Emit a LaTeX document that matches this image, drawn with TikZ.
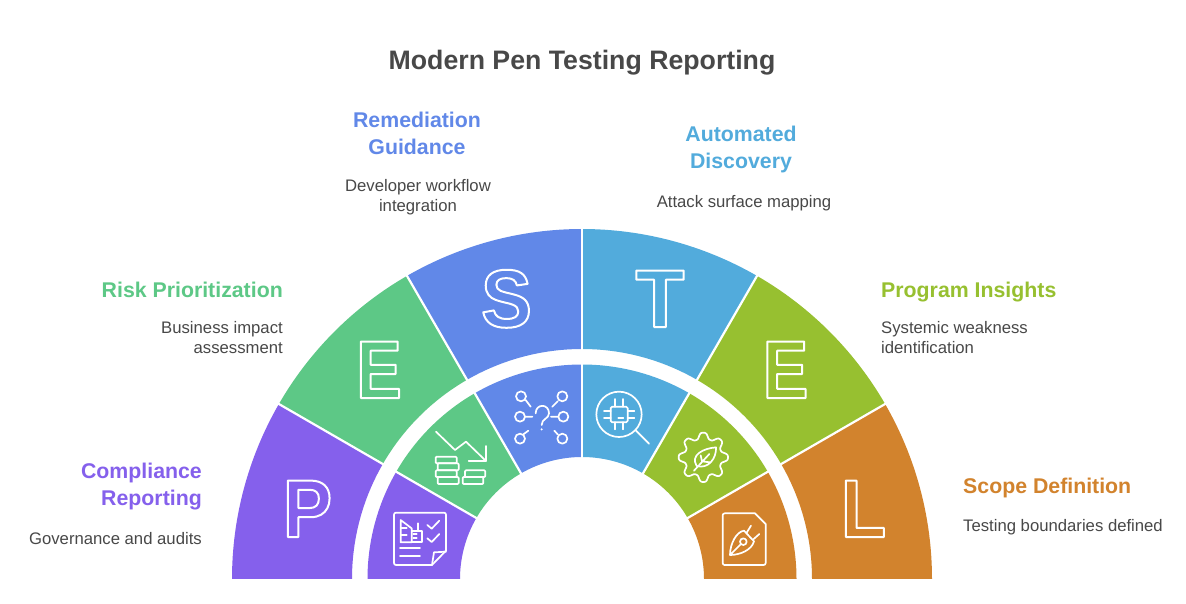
\documentclass[tikz,border=0pt]{standalone}
\usepackage{fontspec}
\setmainfont{Liberation Sans}
\newfontfamily\letE{Liberation Sans}[FakeStretch=0.83]
\newfontfamily\letP{Liberation Sans}[FakeStretch=0.90]
\newfontfamily\letS{Liberation Sans}[FakeStretch=0.93]
\newfontfamily\letT{Liberation Sans}[FakeStretch=0.98]
\definecolor{cpurple}{HTML}{8560EC}
\definecolor{cgreen}{HTML}{5DC886}
\definecolor{cblue}{HTML}{6188E8}
\definecolor{csky}{HTML}{52ABDC}
\definecolor{clime}{HTML}{97C030}
\definecolor{corange}{HTML}{D2832D}
\definecolor{cgrey}{HTML}{484848}
\newcommand{\ringseg}[3]{%
  \fill[#1] (#2:350) arc (#2:#3:350) -- (#3:230) arc (#3:#2:230) -- cycle;
  \fill[#1] (#2:214.5) arc (#2:#3:214.5) -- (#3:122) arc (#3:#2:122) -- cycle;}
\newcommand{\ringsep}[1]{%
  \draw[sepline] (#1:229) -- (#1:351);
  \draw[sepline] (#1:121) -- (#1:215.5);}
\newcommand{\outl}[1]{\special{pdf:code 1 Tr 2 w 1 j 1 1 1 RG}#1\special{pdf:code 0 Tr}}
\tikzset{
  x=1pt,y=1pt,
  sepline/.style={white,line width=2.2pt},
  icon/.style={white,line width=1.7pt,line cap=round,line join=round},
  titletext/.style={inner sep=0pt,text=cgrey,font=\fontsize{26.7}{32}\selectfont\bfseries,anchor=base},
  head/.style={inner sep=0pt,text depth=0pt,yshift=-0.7pt,font=\fontsize{21.3}{27}\selectfont\bfseries},
  desc/.style={inner sep=0pt,text depth=0pt,yshift=-0.7pt,text=cgrey,font=\fontsize{16.7}{20.5}\selectfont},
  letter/.style={inner sep=0pt,anchor=base,text=white,font=\fontsize{82}{82}\selectfont\bfseries},
}
\begin{document}
\begin{tikzpicture}[yscale=-1]
\useasboundingbox (0,0) rectangle (1186,603);
\fill[white] (0,0) rectangle (1186,603);
\begin{scope}
  \clip (0,0) rectangle (1186,578.3);
  \begin{scope}[shift={(582,579)}]
    \ringseg{cpurple}{-180}{-150}
    \ringseg{cgreen}{-150}{-120}
    \ringseg{cblue}{-120}{-90}
    \ringseg{csky}{-90}{-60}
    \ringseg{clime}{-60}{-30}
    \ringseg{corange}{-30}{0}
    \ringsep{-150}\ringsep{-120}\ringsep{-90}\ringsep{-60}\ringsep{-30}
  \end{scope}
\end{scope}

\node[titletext] (title) at (582,69) {Modern Pen Testing Reporting};

\node[head,text=cpurple,align=right,anchor=south east] (h1) at (202,505) {Compliance\\Reporting};
\node[desc,align=right,anchor=south east] (d1) at (202,544) {Governance and audits};
\node[head,text=cgreen,align=right,anchor=south east] (h2) at (283,297) {Risk Prioritization};
\node[desc,align=right,anchor=south east] (d2) at (283,353) {Business impact\\assessment};
\node[head,text=cblue,align=center,anchor=south] (h3) at (417,154) {Remediation\\Guidance};
\node[desc,align=center,anchor=south] (d3) at (418,211) {Developer workflow\\integration};
\node[head,text=csky,align=center,anchor=south] (h4) at (741,168) {Automated\\Discovery};
\node[desc,align=center,anchor=south] (d4) at (744,207) {Attack surface mapping};
\node[head,text=clime,align=left,anchor=south west] (h5) at (881,297) {Program Insights};
\node[desc,align=left,anchor=south west] (d5) at (881,353) {Systemic weakness\\identification};
\node[head,text=corange,align=left,anchor=south west] (h6) at (963,493) {Scope Definition};
\node[desc,align=left,anchor=south west] (d6) at (963,531) {Testing boundaries defined};

\node[letter] (lP) at (307.5,537) {\letP\outl{P}};
\node[letter] (lE) at (379,398) {\letE\outl{E}};
\node[letter] (lS) at (506.5,327) {\letS\outl{S}};
\node[letter] (lT) at (660,327) {\letT\outl{T}};
\node[letter] (lEb) at (785.5,398) {\letE\outl{E}};
\node[letter] (lL) at (863.5,537) {\letP\outl{L}};

% icons, in crop coordinates
\begin{scope}[shift={(360,380)},scale=1/3,icon]
  % document with book and checks
  \draw (108,398) -- (252,398) to[out=0,in=-90] (258,404) -- (258,512) -- (216,555) -- (108,555) to[out=180,in=90] (102,549) -- (102,404) to[out=-90,in=180] cycle;
  \draw (258,515) -- (222,517) -- (216,555);
  \draw (120,505) -- (180,505) (120,527) -- (180,527);
  \draw (202,435) -- (215,446) -- (238,422) (202,475) -- (215,486) -- (238,462);
  \draw (155,487) -- (122,487) -- (122,420) -- (155,445) -- (155,487);
  \draw (155,452) -- (185,452) -- (185,487) -- (155,487);
  \draw (175,430) -- (175,452) (122,445) -- (140,445) (122,465) -- (140,465) (160,462) -- (170,462) (160,475) -- (170,475);
  % falling chart with coins
  \draw (228,155) -- (285,210) -- (318,185) -- (378,243);
  \draw (378,198) -- (378,243) -- (326,243);
  \begin{scope}[rounded corners=1pt]
    \draw (227,230) rectangle (290,250);
    \draw (233,250) rectangle (296,271);
    \draw (227,271) rectangle (290,291);
    \draw (233,291) rectangle (296,312);
    \draw (315,271) rectangle (376,291);
    \draw (308,291) rectangle (370,312);
  \end{scope}
  % network with question mark
  \draw (483,49) circle (15) (607,49) circle (15) (480,110) circle (15) (610,110) circle (15) (480,176) circle (15) (607,176) circle (15);
  \draw (497,60) -- (512,80) (593,64) -- (577,80) (495,110) -- (517,110) (595,110) -- (573,110) (490,163) -- (505,152) (593,163) -- (583,152);
  \draw (527,100) .. controls (527,70) and (567,70) .. (567,100) .. controls (567,117) and (545,115) .. (545,135);
  \fill (545,148) circle (3.5);
\end{scope}
\begin{scope}[shift={(580,380)},scale=1/3,icon]
  % magnifier with chip
  \draw (117,103) circle (68);
  \draw (168,152) -- (207,191);
  \draw[rounded corners=1.5pt] (92,80) rectangle (143,127);
  \draw (105,57) -- (105,80) (130,57) -- (130,80) (105,127) -- (105,148) (130,127) -- (130,148);
  \draw (72,92) -- (92,92) (72,115) -- (92,115) (143,92) -- (163,92) (143,115) -- (163,115);
  \draw (115,115) -- (130,115);
  % gear with leaf
  \draw plot[domain=0:360,samples=193,smooth cycle] ({370+(65+10*(cos(8*\x)-0.1*cos(24*\x)))*cos(\x)},{232+(65+10*(cos(8*\x)-0.1*cos(24*\x)))*sin(\x)});
  \draw (350,258) .. controls (330,225) and (370,205) .. (408,202) .. controls (410,235) and (385,268) .. (350,258);
  \draw (342,272) -- (388,222) (366,244) -- (362,226) (366,244) -- (390,247);
  % document with pen nib
  \draw (434,400) -- (525,400) -- (557,432) -- (557,549) to[out=90,in=0] (551,555) -- (434,555) to[out=180,in=90] (428,549) -- (428,406) to[out=-90,in=180] cycle;
  \draw (450,525) .. controls (450,490) and (470,455) .. (492,452) -- (522,484) .. controls (515,510) and (480,525) .. (450,525) -- (482,493);
  \draw (490,485) circle (10);
  \draw (500,458) -- (513,437) (520,478) -- (538,462);
\end{scope}
\end{tikzpicture}
\end{document}
